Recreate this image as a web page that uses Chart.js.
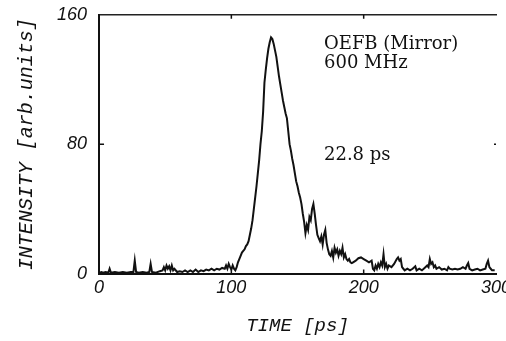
<!DOCTYPE html>
<html>
<head>
<meta charset="utf-8">
<script src="https://cdn.jsdelivr.net/npm/chart.js@4.4.1/dist/chart.umd.min.js"></script>
<style>
  html, body { margin: 0; padding: 0; background: #fff; overflow: hidden; }
  #wrap { width: 520px; height: 341px; }
</style>
</head>
<body>
<div id="wrap"><canvas id="pulse"></canvas></div>
<script>
// Pulse trace
let timePs = [
    0, 2, 3, 5, 7, 8, 9, 12, 15, 18, 21, 24, 26, 27, 28, 30, 33, 36, 38, 39,
    40, 43, 46, 48, 49, 50, 51, 52, 53, 54, 55, 56, 57, 59, 61, 63, 65, 67, 69, 71,
    73, 75, 77, 79, 81, 83, 85, 87, 89, 91, 93, 95, 96, 97, 98, 99, 100, 101, 102, 103,
    104, 105, 106, 107, 108, 109, 110, 111, 112, 113, 114, 115, 116, 117, 118, 119, 120, 121, 122, 123,
    124, 125, 126, 127, 128, 129, 130, 131, 132, 133, 134, 135, 136, 137, 138, 139, 140, 141, 142, 143,
    144, 145, 146, 147, 148, 149, 150, 151, 152, 153, 154, 155, 156, 157, 158, 159, 160, 161, 162, 163,
    164, 165, 166, 167, 168, 169, 170, 171, 172, 173, 174, 175, 176, 177, 178, 179, 180, 181, 182, 183,
    184, 185, 186, 187, 188, 189, 190, 191, 192, 194, 196, 198, 200, 202, 204, 206, 207, 208, 209, 210,
    211, 212, 213, 214, 215, 216, 217, 218, 219, 221, 223, 225, 226, 227, 228, 229, 230, 231, 233, 235,
    237, 239, 240, 242, 244, 246, 248, 249, 250, 251, 252, 253, 254, 255, 257, 259, 261, 263, 264, 265,
    267, 269, 271, 273, 275, 277, 278, 279, 280, 282, 284, 286, 288, 290, 292, 293, 294, 295, 296, 297,
    299
];
let intensity = [
    0.5, 1, 0.5, 1, 0.5, 3, 0.5, 1, 0.5, 1, 0.5, 1, 1, 8, 1, 0.5, 1, 0.5, 1, 6,
    1, 0.5, 1.5, 2, 4, 2, 5, 3, 4.5, 2, 5, 2, 3, 1, 1.5, 1, 2, 1, 2, 1,
    2.5, 1, 2, 1.5, 2.5, 2, 3, 2, 3, 2.5, 3.5, 3, 5, 3, 6, 4, 2.5, 5, 3, 2,
    4, 7, 9, 11, 13, 14, 15, 17, 18, 20, 24, 28, 33, 40, 47, 54, 62, 70, 80, 88,
    100, 118, 126, 133, 139, 143, 146, 145, 142, 138, 134, 128, 122, 117, 112, 107, 103, 99, 96, 88,
    80, 76, 71, 67, 62, 57, 54, 50, 47, 43, 37, 32, 25, 30, 27, 35, 33, 40, 43, 37,
    30, 24, 22, 20, 23, 18, 24, 27, 19, 15, 12, 11, 14, 10, 16, 13, 15, 11, 14, 12,
    16, 10, 12, 9, 8, 9, 7, 6.5, 7, 8, 9.5, 10, 9, 8, 7, 8, 3, 2, 5, 3,
    6, 4, 7, 5, 12, 4, 6, 3, 5, 4, 6, 9, 10, 8, 9, 4, 3, 2, 3, 2,
    3, 4.5, 2, 3, 2, 3.5, 5, 4, 9, 6, 7, 4, 5, 3, 4, 2.5, 3, 2, 4, 3,
    2.5, 3, 2.5, 3, 4, 3, 5, 6.5, 3, 2, 2.5, 3, 2, 2.5, 3, 6, 8, 4, 3, 2,
    2
];
let yTicks = [0, 80, 160];
let xTicks = [0, 100, 200, 300];

// Text notes, placed in data units
let noteText = ["OEFB (Mirror)", "600 MHz", "22.8 ps"];
let noteTime = [170, 170, 170];
let noteLevel = [142, 130, 73];

const tracePoints = timePs.map((t, i) => ({ x: t, y: intensity[i] }));

// inward tick marks and the text notes
const paperMarks = {
    id: 'paperMarks',
    afterDraw(chart) {
        const ctx = chart.ctx;
        const xs = chart.scales.x, ys = chart.scales.y;
        const area = chart.chartArea;
        ctx.save();
        ctx.strokeStyle = '#111';
        ctx.lineWidth = 1.5;
        ctx.beginPath();
        xTicks.slice(1, 3).forEach(v => {
            const px = xs.getPixelForValue(v);
            ctx.moveTo(px, area.bottom);
            ctx.lineTo(px, area.bottom - 4);
            ctx.moveTo(px, area.top);
            ctx.lineTo(px, area.top + 4);
        });
        const py = ys.getPixelForValue(yTicks[1]);
        ctx.moveTo(area.left, py);
        ctx.lineTo(area.left + 5, py);
        ctx.moveTo(area.right, py);
        ctx.lineTo(area.right - 2, py);
        ctx.stroke();

        ctx.fillStyle = '#111';
        ctx.font = '18px "DejaVu Serif"';
        ctx.textBaseline = 'middle';
        ctx.textAlign = 'left';
        noteText.forEach((s, i) => {
            ctx.fillText(s, xs.getPixelForValue(noteTime[i]), ys.getPixelForValue(noteLevel[i]));
        });
        ctx.restore();
    }
};

const ctx = document.getElementById('pulse').getContext('2d');
const pulseChart = new Chart(ctx, {
    type: 'line',
    data: {
        datasets: [{
            label: 'OEFB',
            data: tracePoints,
            borderColor: '#111',
            borderWidth: 2,
            pointRadius: 0,
            tension: 0,
            fill: false
        }]
    },
    options: {
        responsive: true,
        maintainAspectRatio: false,
        animation: false,
        layout: {
            padding: { top: 6, right: 24, bottom: 4, left: 15 }
        },
        scales: {
            x: {
                type: 'linear',
                min: 0,
                max: 300,
                afterBuildTicks: (scale) => { scale.ticks = xTicks.map(v => ({ value: v })); },
                grid: { display: false },
                border: { display: true, color: '#111', width: 2 },
                ticks: {
                    color: '#111',
                    padding: -4,
                    maxRotation: 0,
                    font: { family: '"Liberation Sans"', size: 18, style: 'italic' }
                },
                title: {
                    display: true,
                    text: 'TIME [ps]',
                    color: '#111',
                    padding: { top: 19, bottom: 0 },
                    font: { family: '"Liberation Mono"', size: 19, style: 'italic' }
                }
            },
            xTop: {
                type: 'linear',
                position: 'top',
                min: 0,
                max: 300,
                grid: { display: false },
                border: { display: true, color: '#222', width: 1.5 },
                ticks: { display: false }
            },
            y: {
                min: 0,
                max: 160,
                afterBuildTicks: (scale) => { scale.ticks = yTicks.map(v => ({ value: v })); },
                grid: { display: false },
                border: { display: true, color: '#111', width: 2 },
                ticks: {
                    color: '#111',
                    padding: 4,
                    font: { family: '"Liberation Sans"', size: 18, style: 'italic' }
                },
                title: {
                    display: true,
                    text: 'INTENSITY [arb.units]',
                    color: '#111',
                    padding: { top: 0, bottom: 14 },
                    font: { family: '"Liberation Mono"', size: 20, style: 'italic' }
                }
            }
        },
        plugins: {
            legend: { display: false },
            tooltip: { enabled: false }
        }
    },
    plugins: [paperMarks]
});
</script>
</body>
</html>
